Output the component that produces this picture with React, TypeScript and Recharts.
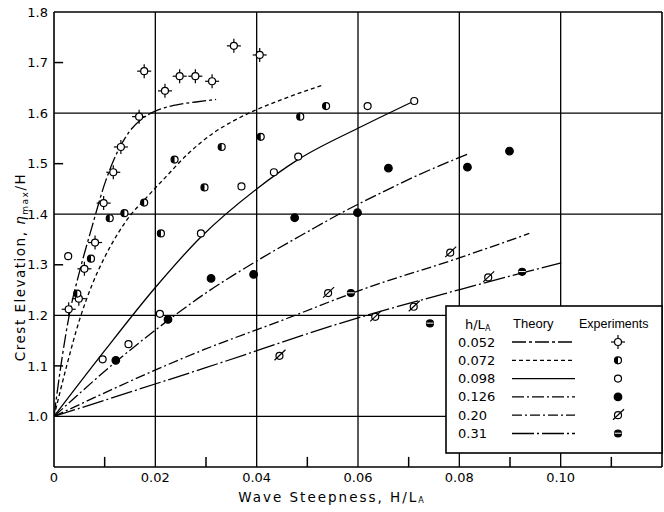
import React from 'react';
import { ComposedChart, Line, Scatter, XAxis, YAxis, ReferenceLine } from 'recharts';

const W = 664;
const H = 512;

// ---- axes ----
const xTicks = [0, 0.02, 0.04, 0.06, 0.08, 0.1];
const xMinorTicks = [0.01, 0.03, 0.05, 0.07, 0.09, 0.11];
const yTicks = [1.0, 1.1, 1.2, 1.3, 1.4, 1.5, 1.6, 1.7, 1.8];
const yMinorTicks = [1.1, 1.3, 1.5, 1.7];
const xGrid = [0.02, 0.04, 0.06, 0.08, 0.1];
const yGrid = [1.0, 1.2, 1.4, 1.6];

// ---- legend ----
const depthLabels = ['0.052', '0.072', '0.098', '0.126', '0.20', '0.31'];

// ---- theory curves ----
const th052X = [0, 0.0015, 0.003, 0.005, 0.0075, 0.01, 0.0125, 0.015, 0.0175, 0.02, 0.024, 0.028, 0.032];
const th052Y = [1.0, 1.11, 1.2, 1.285, 1.375, 1.46, 1.523, 1.565, 1.59, 1.604, 1.616, 1.622, 1.627];

const th072X = [0, 0.0025, 0.005, 0.0075, 0.01, 0.0125, 0.015, 0.0178, 0.0219, 0.0265, 0.0318, 0.0355, 0.0398, 0.045, 0.0529];
const th072Y = [1.0, 1.1, 1.19, 1.26, 1.315, 1.36, 1.397, 1.428, 1.472, 1.52, 1.563, 1.585, 1.606, 1.627, 1.655];

const th098X = [0, 0.01, 0.02, 0.029, 0.04, 0.048, 0.0608, 0.0711];
const th098Y = [1.0, 1.13, 1.255, 1.355, 1.45, 1.507, 1.574, 1.624];

const th126X = [0, 0.0122, 0.0225, 0.0298, 0.0401, 0.05, 0.0568, 0.0647, 0.072, 0.0819];
const th126Y = [1.0, 1.108, 1.19, 1.243, 1.308, 1.365, 1.403, 1.443, 1.478, 1.52];

const th20X = [0, 0.0298, 0.0455, 0.0608, 0.0801, 0.0938];
const th20Y = [1.0, 1.133, 1.192, 1.251, 1.314, 1.362];

const th31X = [0, 0.0298, 0.06, 0.0801, 0.1001];
const th31Y = [1.0, 1.096, 1.195, 1.251, 1.304];

// ---- experiments ----
const ex052X = [0.0029, 0.0049, 0.006, 0.0081, 0.0098, 0.0117, 0.0132, 0.0168, 0.0178, 0.0219, 0.0248, 0.0279, 0.0312, 0.0355, 0.0406];
const ex052Y = [1.212, 1.233, 1.292, 1.344, 1.422, 1.483, 1.533, 1.593, 1.683, 1.644, 1.673, 1.673, 1.663, 1.733, 1.715];

const ex072X = [0.0046, 0.0073, 0.011, 0.0139, 0.0178, 0.0211, 0.0238, 0.0297, 0.0331, 0.0408, 0.0486, 0.0537];
const ex072Y = [1.243, 1.312, 1.392, 1.402, 1.423, 1.362, 1.508, 1.453, 1.533, 1.553, 1.593, 1.614];

const ex098X = [0.0028, 0.0096, 0.0147, 0.0209, 0.029, 0.037, 0.0434, 0.0482, 0.0619, 0.0711];
const ex098Y = [1.317, 1.113, 1.143, 1.203, 1.362, 1.455, 1.483, 1.514, 1.614, 1.624];

const ex126X = [0.0122, 0.0225, 0.031, 0.0394, 0.0475, 0.0599, 0.066, 0.0816, 0.0899];
const ex126Y = [1.111, 1.192, 1.273, 1.281, 1.393, 1.403, 1.491, 1.493, 1.525];

const ex20X = [0.0445, 0.0541, 0.0634, 0.071, 0.0782, 0.0857];
const ex20Y = [1.12, 1.244, 1.197, 1.217, 1.324, 1.275];

const ex31X = [0.0586, 0.0742, 0.0924];
const ex31Y = [1.244, 1.184, 1.286];

const zip = (xs: number[], ys: number[]) => xs.map((x, i) => ({ x, y: ys[i] }));

// ---- marker shapes ----
const R = 3.5;
const SW = 1.2;

const CrossCircle = (p: any) => {
  const { cx, cy } = p;
  return (
    <g>
      <circle cx={cx} cy={cy} r={R} fill="#fff" stroke="#000" strokeWidth={SW} />
      <line x1={cx} y1={cy - R} x2={cx} y2={cy - R - 3.5} stroke="#000" strokeWidth={SW} />
      <line x1={cx} y1={cy + R} x2={cx} y2={cy + R + 3.5} stroke="#000" strokeWidth={SW} />
      <line x1={cx - R} y1={cy} x2={cx - R - 3.5} y2={cy} stroke="#000" strokeWidth={SW} />
      <line x1={cx + R} y1={cy} x2={cx + R + 3.5} y2={cy} stroke="#000" strokeWidth={SW} />
    </g>
  );
};

const HalfLeft = (p: any) => {
  const { cx, cy } = p;
  return (
    <g>
      <circle cx={cx} cy={cy} r={R} fill="#fff" stroke="#000" strokeWidth={SW} />
      <path d={`M ${cx} ${cy - R} A ${R} ${R} 0 0 0 ${cx} ${cy + R} Z`} fill="#000" />
    </g>
  );
};

const OpenCircle = (p: any) => {
  const { cx, cy } = p;
  return <circle cx={cx} cy={cy} r={R} fill="#fff" stroke="#000" strokeWidth={SW} />;
};

const FilledCircle = (p: any) => {
  const { cx, cy } = p;
  return <circle cx={cx} cy={cy} r={R + 0.3} fill="#000" stroke="#000" strokeWidth={SW} />;
};

const SlashCircle = (p: any) => {
  const { cx, cy } = p;
  return (
    <g>
      <circle cx={cx} cy={cy} r={R} fill="#fff" stroke="#000" strokeWidth={SW} />
      <line x1={cx - R - 1.5} y1={cy + R + 1} x2={cx + R + 2.5} y2={cy - R - 2.5} stroke="#000" strokeWidth={SW} />
    </g>
  );
};

const BandCircle = (p: any) => {
  const { cx, cy } = p;
  return (
    <g>
      <circle cx={cx} cy={cy} r={R} fill="#000" stroke="#000" strokeWidth={SW} />
      <line x1={cx - R} y1={cy - 0.3} x2={cx + R} y2={cy - 0.3} stroke="#fff" strokeWidth={1} />
    </g>
  );
};

const dash052 = '14 3 3 3';
const dash072 = '4 3';
const dash098 = undefined;
const dash126 = '12 3 2 3';
const dash20 = '10 3 2 3';
const dash31 = '22 3 2 3';

const series = [
  { th: zip(th052X, th052Y), ex: zip(ex052X, ex052Y), dash: dash052, shape: CrossCircle },
  { th: zip(th072X, th072Y), ex: zip(ex072X, ex072Y), dash: dash072, shape: HalfLeft },
  { th: zip(th098X, th098Y), ex: zip(ex098X, ex098Y), dash: dash098, shape: OpenCircle },
  { th: zip(th126X, th126Y), ex: zip(ex126X, ex126Y), dash: dash126, shape: FilledCircle },
  { th: zip(th20X, th20Y), ex: zip(ex20X, ex20Y), dash: dash20, shape: SlashCircle },
  { th: zip(th31X, th31Y), ex: zip(ex31X, ex31Y), dash: dash31, shape: BandCircle },
];

const FONT = 'DejaVu Sans';

export default function App() {
  const legLeft = 446;
  const legTop = 306;
  const legW = 216;
  const legH = 147;
  return (
    <div style={{ position: 'absolute', left: 0, top: 0, width: W, height: H, background: '#fff' }}>
      <ComposedChart width={W} height={H} margin={{ top: 12, right: 2, bottom: 0, left: 0 }}>
        <XAxis
          type="number"
          dataKey="x"
          domain={[0, 0.12]}
          ticks={xTicks}
          tickFormatter={(v: number) => (v === 0 ? '0' : v.toFixed(2))}
          height={45}
          tickLine={false}
          tickMargin={0}
          axisLine={{ stroke: '#000', strokeWidth: 1.6 }}
          tick={{ fill: '#000', fontSize: 13, fontFamily: FONT }}
          allowDataOverflow
        />
        <YAxis
          type="number"
          dataKey="y"
          domain={[0.9, 1.8]}
          ticks={yTicks}
          tickFormatter={(v: number) => v.toFixed(1)}
          width={54}
          tickLine={false}
          tickMargin={0}
          axisLine={{ stroke: '#000', strokeWidth: 1.6 }}
          tick={{ fill: '#000', fontSize: 13, fontFamily: FONT }}
          allowDataOverflow
        />
        {yGrid.map((v) => (
          <ReferenceLine key={'gy' + v} y={v} stroke="#000" strokeWidth={1.3} ifOverflow="visible" />
        ))}
        {xGrid.map((v) => (
          <ReferenceLine key={'gx' + v} x={v} stroke="#000" strokeWidth={1.3} ifOverflow="visible" />
        ))}
        <ReferenceLine y={1.8} stroke="#000" strokeWidth={1.6} ifOverflow="visible" />
        <ReferenceLine x={0.12} stroke="#000" strokeWidth={1.6} ifOverflow="visible" />
        {xMinorTicks.map((v) => (
          <ReferenceLine
            key={'mx' + v}
            segment={[{ x: v, y: 0.9 }, { x: v, y: 0.92 }]}
            stroke="#000"
            strokeWidth={1.5}
            ifOverflow="visible"
          />
        ))}
        {yMinorTicks.map((v) => (
          <ReferenceLine
            key={'my' + v}
            segment={[{ x: 0, y: v }, { x: 0.0018, y: v }]}
            stroke="#000"
            strokeWidth={1.5}
            ifOverflow="visible"
          />
        ))}
        {series.map((s, i) => (
          <Line
            key={'th' + i}
            data={s.th}
            dataKey="y"
            type="monotone"
            dot={false}
            activeDot={false}
            stroke="#000"
            strokeWidth={1.3}
            strokeDasharray={s.dash}
            isAnimationActive={false}
          />
        ))}
        {series.map((s, i) => (
          <Scatter key={'ex' + i} data={s.ex} dataKey="y" shape={s.shape} isAnimationActive={false} />
        ))}
      </ComposedChart>

      <svg
        width={W}
        height={H}
        style={{ position: 'absolute', left: 0, top: 0, pointerEvents: 'none' }}
      >
        <text
          transform="translate(25,267) rotate(-90)"
          textAnchor="middle"
          fontFamily={FONT}
          fontSize={13.5}
          letterSpacing={1.5}
          fill="#000"
        >
          Crest Elevation,{' '}
          <tspan fontStyle="italic">η</tspan>
          <tspan fontSize={9} dy={3}>max</tspan>
          <tspan dy={-3}>/H</tspan>
        </text>
        <text x={332} y={502} textAnchor="middle" fontFamily={FONT} fontSize={13.5} letterSpacing={2} fill="#000">
          Wave Steepness,{'  '}H/L<tspan fontSize={8} dy={1}>A</tspan>
        </text>

        <g transform={`translate(${legLeft},${legTop})`}>
          <rect x={0} y={0} width={legW} height={legH} fill="#fff" stroke="#000" strokeWidth={1.6} />
          <text x={19} y={23} fontFamily={FONT} fontSize={13} fill="#000">
            h/L<tspan fontSize={8} dy={2}>A</tspan>
          </text>
          <text x={67} y={22} fontFamily="Liberation Sans" fontSize={13} fill="#000">
            Theory
          </text>
          <text x={133} y={22} fontFamily="Liberation Sans" fontSize={12.5} fill="#000">
            Experiments
          </text>
          {series.map((s, i) => {
            const cy = 36 + i * 18.3;
            const Shape = s.shape;
            return (
              <g key={'lg' + i}>
                <text x={12} y={cy + 4.5} fontFamily={FONT} fontSize={13} fill="#000">
                  {depthLabels[i]}
                </text>
                <line x1={66} y1={cy} x2={129} y2={cy} stroke="#000" strokeWidth={1.3} strokeDasharray={s.dash} />
                <Shape cx={172} cy={cy} />
              </g>
            );
          })}
        </g>
      </svg>
    </div>
  );
}
